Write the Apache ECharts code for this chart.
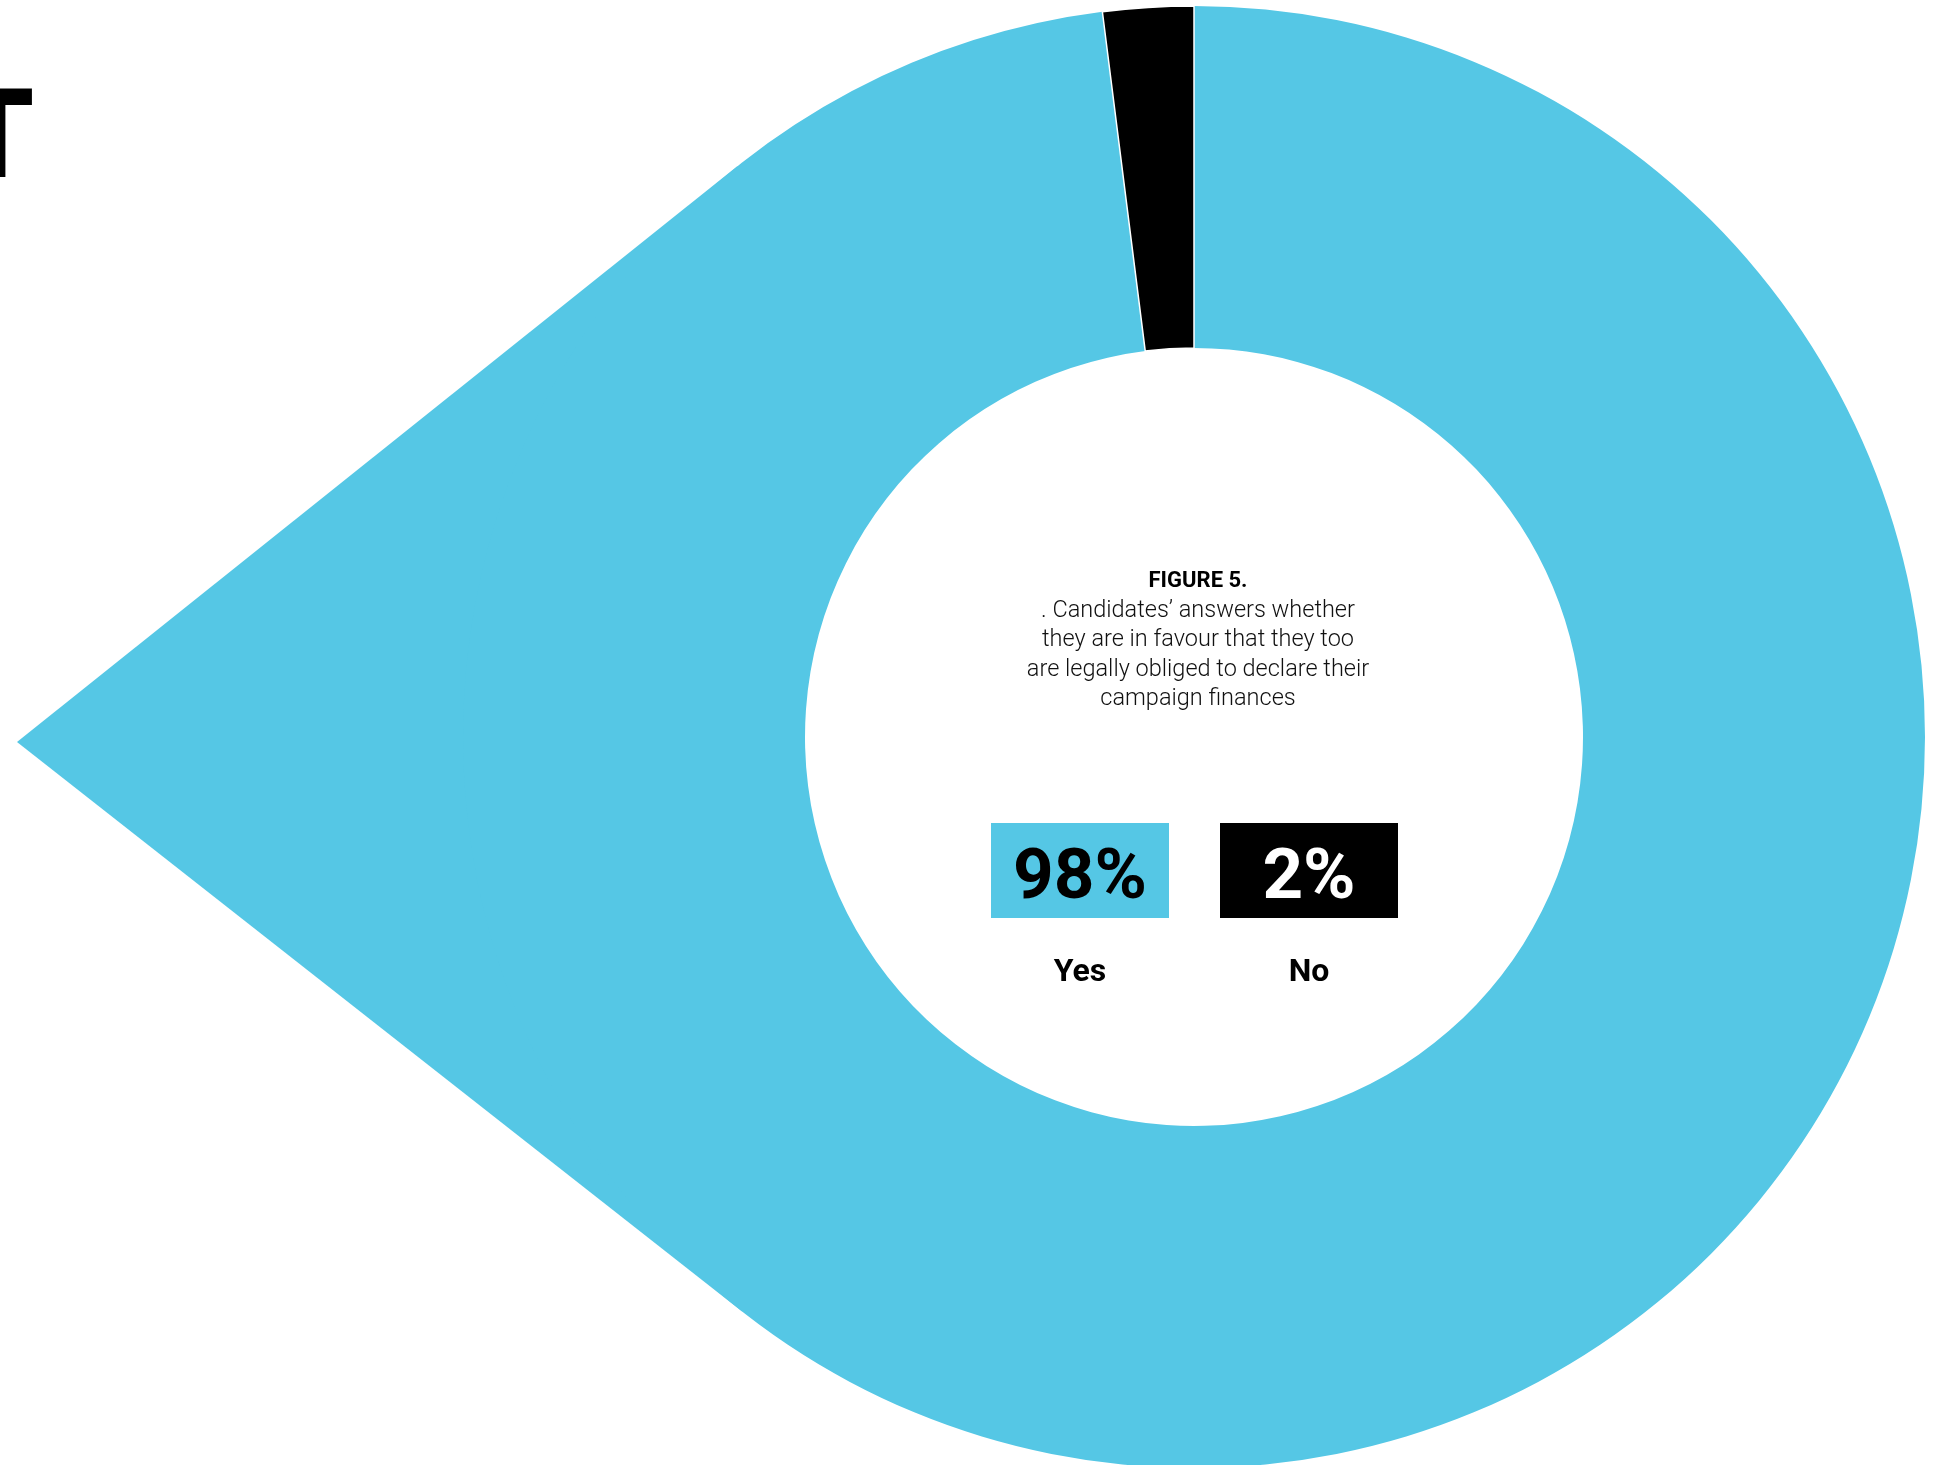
<!DOCTYPE html>
<html>
<head>
<meta charset="utf-8">
<script src="https://cdn.jsdelivr.net/npm/echarts@6/dist/echarts.min.js"></script>
<style>
html,body{margin:0;padding:0;background:#fff;}
#chart{width:1935px;height:1465px;}
</style>
</head>
<body>
<div id="chart"></div>
<script>
// ---- data ----
const categories = ['Yes', 'No'];
const values = [98, 2];
const sliceColors = ['#55C7E5', '#000000'];
const boxTextColors = ['#000000', '#ffffff'];
const figureTitle = 'FIGURE 5.';
const figureCaption = [
  '. Candidates\u2019 answers whether',
  'they are in favour that they too',
  'are legally obliged to declare their',
  'campaign finances'
];
const cornerGlyph = 'T';

// ---- layout ----
const CX = 1194, CY = 737, R_OUT = 731, R_IN = 389;
const TIP = [17, 742];
const FONT = 'Roboto, "Noto Sans", sans-serif';

// tangent points from the tip to the outer circle (teardrop shape)
function tangentPoints() {
  const dx = TIP[0] - CX, dy = TIP[1] - CY;
  const d = Math.sqrt(dx * dx + dy * dy);
  const base = Math.atan2(dy, dx);
  const off = Math.acos(R_OUT / d);
  return [base + off, base - off].map(a => [CX + R_OUT * Math.cos(a), CY + R_OUT * Math.sin(a)]);
}
const tp = tangentPoints();

const chart = echarts.init(document.getElementById('chart'), null, {renderer: 'canvas'});

const total = values.reduce((a, b) => a + b, 0);
const boxW = 178, boxH = 95, boxY = 823;
const boxCenters = [1080, 1309];

const graphics = [
  {
    type: 'polygon',
    z: 0,
    silent: true,
    shape: {points: [TIP, tp[0], tp[1]]},
    style: {fill: sliceColors[0]}
  },
  {
    type: 'text',
    x: -5, y: 146,
    silent: true,
    style: {text: cornerGlyph, font: '900 124px ' + FONT, fill: '#000', align: 'center', verticalAlign: 'middle'}
  },
  {
    type: 'text',
    x: CX + 4, y: 581,
    silent: true,
    style: {text: figureTitle, font: 'bold 22px ' + FONT, fill: '#000', align: 'center', verticalAlign: 'middle'}
  },
  {
    type: 'text',
    x: CX + 4, y: 596,
    silent: true,
    style: {text: figureCaption.join('\n'), font: '300 23.5px ' + FONT, lineHeight: 29.5, fill: '#111', align: 'center', verticalAlign: 'top'}
  }
];

categories.forEach((c, i) => {
  const cx = boxCenters[i];
  graphics.push({
    type: 'rect', silent: true,
    shape: {x: cx - boxW / 2, y: boxY, width: boxW, height: boxH},
    style: {fill: sliceColors[i]}
  });
  graphics.push({
    type: 'text', silent: true, x: cx, y: 880,
    style: {text: Math.round(values[i] / total * 100) + '%', font: 'bold 71px ' + FONT, fill: boxTextColors[i], align: 'center', verticalAlign: 'middle'}
  });
  graphics.push({
    type: 'text', silent: true, x: cx, y: 973,
    style: {text: c, font: 'bold 32px ' + FONT, fill: '#000', align: 'center', verticalAlign: 'middle'}
  });
});

chart.setOption({
  backgroundColor: '#ffffff',
  animation: false,
  graphic: {elements: graphics},
  series: [{
    type: 'pie',
    z: 5,
    center: [CX, CY],
    radius: [R_IN, R_OUT],
    startAngle: 90,
    clockwise: true,
    silent: true,
    label: {show: false},
    labelLine: {show: false},
    emphasis: {disabled: true},
    data: categories.map((c, i) => ({
      name: c,
      value: values[i],
      itemStyle: i === 1
        ? {color: sliceColors[i], borderColor: '#ffffff', borderWidth: 1.5}
        : {color: sliceColors[i], borderWidth: 0}
    }))
  }]
});
</script>
</body>
</html>
